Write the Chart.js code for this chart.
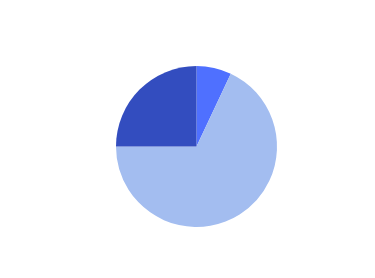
<!DOCTYPE html>
<html>
<head>
<meta charset="utf-8">
<script src="https://cdn.jsdelivr.net/npm/chart.js@4"></script>
<style>
  html, body { margin: 0; padding: 0; background: #ffffff; }
</style>
</head>
<body>
<canvas id="pieChart" width="375" height="278"></canvas>
<script>
// Valores (em %)
const categories = ['A', 'B', 'C'];
const values = [7, 68, 25];
const colors = ['#4f70ff', '#a3bdf0', '#334dbf'];

const ctx = document.getElementById('pieChart').getContext('2d');

const pieChart = new Chart(ctx, {
  type: 'pie',
  data: {
    labels: categories,
    datasets: [{
      data: values,
      backgroundColor: colors,
      borderWidth: 0
    }]
  },
  options: {
    responsive: false,
    animation: false,
    layout: {
      padding: { top: 66, bottom: 51, left: 18, right: 0 }
    },
    plugins: {
      legend: { display: false },
      tooltip: { enabled: false }
    }
  }
});
</script>
</body>
</html>
